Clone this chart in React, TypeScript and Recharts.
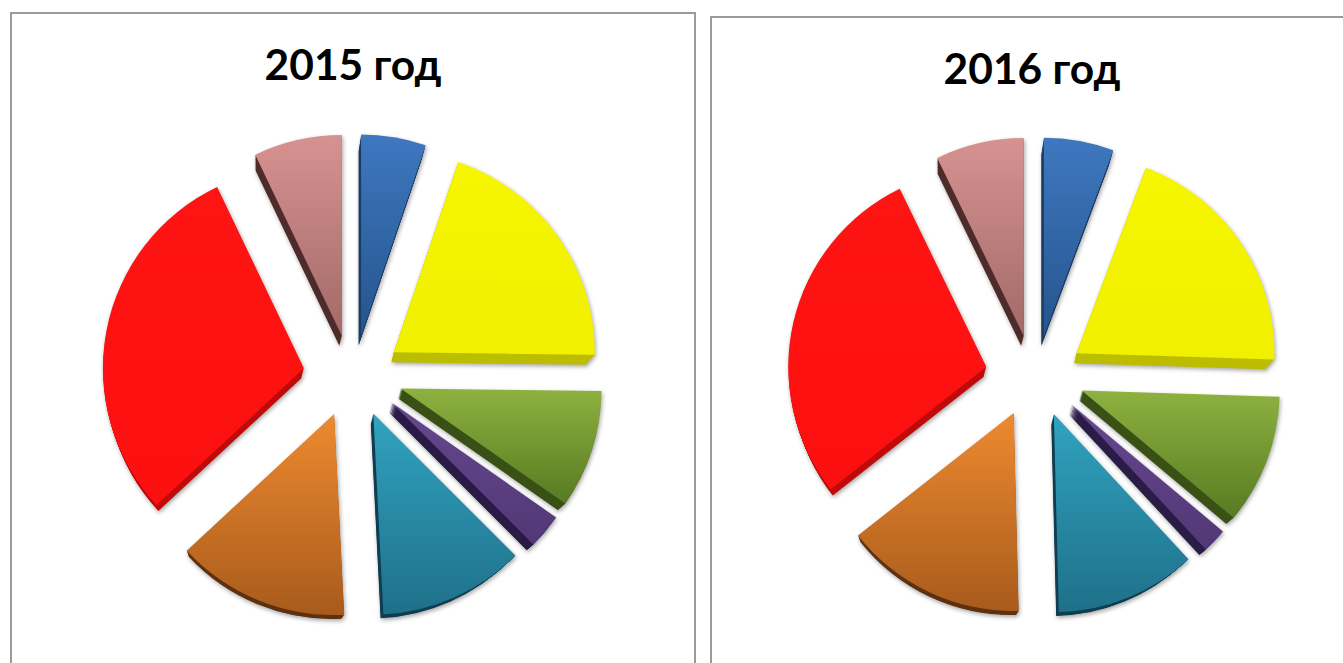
import { PieChart, Pie, Sector } from "recharts";

const CATEGORIES = ["a", "b", "c", "d", "e", "f", "g", "h"];
const VALUES_2015 = [5.2, 20, 9.5, 2.8, 11.7, 13.9, 29.8, 7.1];
const VALUES_2016 = [5.7, 19.8, 10.6, 2, 11.5, 14.8, 28.4, 7.2];

// top of slice, bottom of slice, extruded side
const COLORS = [
  ["#3f78c0", "#24548c", "#1d3f66"],
  ["#f6f600", "#f0f000", "#bdbd00"],
  ["#8db23f", "#587a22", "#3a5116"],
  ["#66478f", "#523876", "#2a1c46"],
  ["#31a3c0", "#1f7089", "#103f52"],
  ["#ee8a30", "#a85b1c", "#5f3210"],
  ["#ff1414", "#fc0f0f", "#c00c0c"],
  ["#d69290", "#a26a68", "#4f2c2b"],
];

const EXPLODE_X = 50;
const EXPLODE_Y = 41;
const DEPTH = 10;
const SIDE_INSET = 6; // the side shows mostly along the straight edges

function buildRows(values: number[]) {
  return CATEGORIES.map((name, i) => ({ name, value: values[i] }));
}

function makeSlice(id: string) {
  return function Slice(props: any) {
    const { cx, cy, outerRadius, startAngle, endAngle, midAngle, index } = props;
    const rad = (midAngle * Math.PI) / 180;
    const x = cx + EXPLODE_X * Math.cos(rad);
    const y = cy - EXPLODE_Y * Math.sin(rad);
    const side = [];
    for (let d = DEPTH; d > 0; d--) {
      side.push(
        <Sector
          key={d}
          cx={x - d * 0.25}
          cy={y + d}
          innerRadius={0}
          outerRadius={outerRadius - (SIDE_INSET * d) / DEPTH}
          startAngle={startAngle}
          endAngle={endAngle}
          fill={COLORS[index][2]}
        />
      );
    }
    return (
      <g style={{ filter: "drop-shadow(1px 2px 2px rgba(0,0,0,0.35))" }}>
        {side}
        <Sector
          cx={x}
          cy={y}
          innerRadius={0}
          outerRadius={outerRadius}
          startAngle={startAngle}
          endAngle={endAngle}
          fill={`url(#${id}-${index})`}
        />
      </g>
    );
  };
}

interface PanelProps {
  title: string;
  values: number[];
  id: string;
  left: number;
  top: number;
  width: number;
  height: number;
  cx: number;
  cy: number;
  radius: number;
  titleTop: number;
  titleCenter: number;
}

function Panel({ title, values, id, left, top, width, height, cx, cy, radius, titleTop, titleCenter }: PanelProps) {
  return (
    <div
      style={{
        position: "absolute",
        left,
        top,
        width,
        height,
        border: "2px solid #9a9a9a",
        boxSizing: "border-box",
      }}
    >
      <div
        style={{
          position: "absolute",
          left: titleCenter - left - 2 - 200,
          top: titleTop,
          width: 400,
          textAlign: "center",
          fontFamily: "Lato",
          fontWeight: 700,
          fontSize: 42.5,
          lineHeight: "48px",
          color: "#000",
        }}
      >
        {title}
      </div>
      <div style={{ position: "absolute", left: 0, top: 0 }}>
        <PieChart width={width - 4} height={height - 4} margin={{ top: 0, right: 0, bottom: 0, left: 0 }}>
          <defs>
            {COLORS.map((c, i) => (
              <linearGradient key={i} id={`${id}-${i}`} x1="0" y1="0" x2="0" y2="1">
                <stop offset="0%" stopColor={c[0]} />
                <stop offset="100%" stopColor={c[1]} />
              </linearGradient>
            ))}
          </defs>
          <Pie
            data={buildRows(values)}
            dataKey="value"
            cx={cx - left - 2}
            cy={cy - top - 2}
            innerRadius={0}
            outerRadius={radius}
            startAngle={90}
            endAngle={-270}
            stroke="none"
            shape={makeSlice(id)}
            isAnimationActive={false}
          />
        </PieChart>
      </div>
    </div>
  );
}

export default function App() {
  return (
    <div
      style={{
        position: "fixed",
        left: 0,
        top: 0,
        width: 1343,
        height: 663,
        overflow: "hidden",
        background: "#fff",
      }}
    >
      <Panel
        title="2015 год"
        values={VALUES_2015}
        id="y2015"
        left={10}
        top={12}
        width={686}
        height={670}
        cx={353}
        cy={376}
        radius={201}
        titleTop={26}
        titleCenter={353}
      />
      <Panel
        title="2016 год"
        values={VALUES_2016}
        id="y2016"
        left={710}
        top={16}
        width={660}
        height={670}
        cx={1035}
        cy={376}
        radius={198}
        titleTop={26}
        titleCenter={1032}
      />
    </div>
  );
}
